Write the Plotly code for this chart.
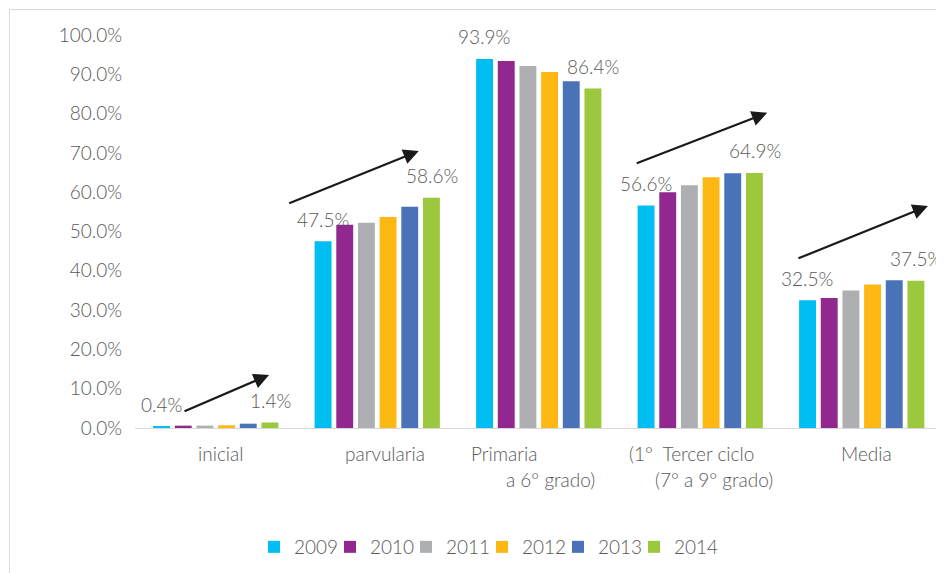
import plotly.graph_objects as go

# --- data ---
categories = ["inicial", "parvularia", "Primaria", "Tercer ciclo", "Media"]
years = ["2009", "2010", "2011", "2012", "2013", "2014"]
v2009 = [0.4, 47.5, 93.9, 56.6, 32.5]
v2010 = [0.6, 51.7, 93.4, 60.0, 33.1]
v2011 = [0.6, 52.2, 92.1, 61.8, 35.0]
v2012 = [0.7, 53.7, 90.6, 63.8, 36.5]
v2013 = [1.1, 56.3, 88.2, 64.8, 37.6]
v2014 = [1.4, 58.6, 86.4, 64.9, 37.5]
series = [v2009, v2010, v2011, v2012, v2013, v2014]
colors = ["#00BDF2", "#92278F", "#ADAFB2", "#FDB813", "#4A72B8", "#9BC83C"]

# category label lines as they appear under the axis (text, category, line, shift)
label_lines = [
    ("inicial", 0, 0, 5),
    ("parvularia", 1, 0, 8),
    ("Primaria", 2, 0, -35),
    ("a 6° grado)", 2, 1, 12),
    ("(1°  Tercer ciclo", 3, 0, -9),
    ("(7° a 9° grado)", 3, 1, 14),
    ("Media", 4, 0, 5),
]

# page body adds an 8px margin, so the figure is laid out 8px up/left
OFF = 8
W, H = 944 - OFF, 573 - OFF
L, R, T, B = 135 - OFF, 0, 35 - OFF, 145
PW, PH = W - L - R, H - T - B
FONT = "Lato"
TXT = "#595959"
BARGAP = 0.195
cat_w = PW / len(categories)
slot = cat_w * (1 - BARGAP) / len(years)


def px_x(px):
    # screen pixel -> paper x
    return (px - OFF - L) / PW


def px_y(py):
    # screen pixel -> paper y
    return (H - B - (py - OFF)) / PH


fnt = dict(size=19, color=TXT, family=FONT, weight=300)

fig = go.Figure()
for i, (yr, vals, col) in enumerate(zip(years, series, colors)):
    fig.add_trace(go.Bar(name=yr, x=categories, y=vals, marker_color=col,
                         marker_line_width=0,
                         legendwidth=60 if i == len(years) - 1 else 31))

annotations = []
# data labels on first and last series
for idx in (0, len(years) - 1):
    for c, v in zip(categories, series[idx]):
        annotations.append(dict(
            x=c, y=v, xref="x", yref="y", text=f"{v:.1f}%", showarrow=False,
            xshift=(idx - 2.5) * slot, yshift=22, yanchor="middle", font=fnt))

# category labels
for text, ci, line, dx in label_lines:
    annotations.append(dict(
        x=categories[ci], y=0, xref="x", yref="paper", text=text,
        showarrow=False, xshift=dx, yshift=-25 - 26 * line, yanchor="middle",
        font=fnt))

# trend arrows (tip x, tip y, tail offsets in px)
arrows = [(0.33, 13.5, -86, 37), (1.257, 70.5, -131, 53),
          (3.415, 80.2, -132, 51), (4.41, 56.5, -131, 53)]
for ax_, ay_, dx, dy in arrows:
    annotations.append(dict(
        x=ax_, y=ay_, xref="x", yref="y", ax=dx, ay=dy, text="",
        showarrow=True, arrowhead=2, arrowsize=1.4, arrowwidth=2.2,
        arrowcolor="#1A1A1A", standoff=0))

fig.update_layout(
    width=W, height=H,
    margin=dict(l=L, r=R, t=T, b=B, pad=0),
    plot_bgcolor="white", paper_bgcolor="white",
    barmode="group", bargap=BARGAP, bargroupgap=0.22,
    font=fnt,
    showlegend=True,
    legend=dict(orientation="h", x=px_x(254), y=px_y(547),
                xanchor="left", yanchor="middle", font=fnt,
                itemwidth=30, tracegroupgap=0),
    annotations=annotations,
    shapes=[
        dict(type="line", xref="paper", yref="paper",
             x0=px_x(9.5), x1=px_x(960), y0=px_y(9.5), y1=px_y(9.5),
             line=dict(color="#D9D9D9", width=1)),
        dict(type="line", xref="paper", yref="paper",
             x0=px_x(9.5), x1=px_x(9.5), y0=px_y(9.5), y1=px_y(580),
             line=dict(color="#D9D9D9", width=1)),
    ],
)
fig.update_xaxes(showticklabels=False, showline=True, linecolor="#D9D9D9",
                 linewidth=1, showgrid=False, ticks="")
fig.update_yaxes(range=[0, 100], dtick=10, tickformat=".1f", ticksuffix="%",
                 showgrid=False, zeroline=False, showline=False, ticks="",
                 ticklabelstandoff=12, tickfont=fnt)

fig.write_html("out.html")
